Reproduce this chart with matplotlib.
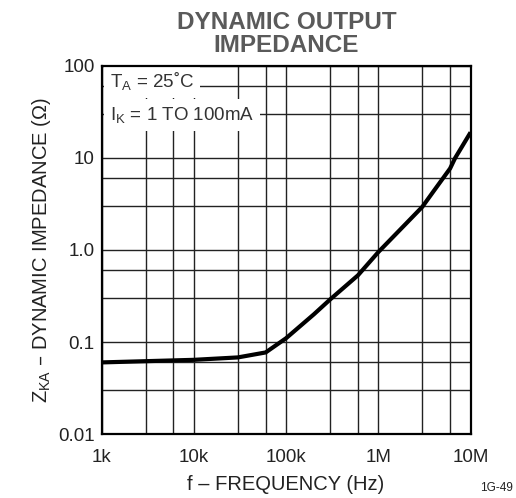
import matplotlib
matplotlib.use("Agg")
import matplotlib.pyplot as plt
from matplotlib.ticker import FixedLocator, NullFormatter

plt.rcParams['font.family'] = ['Liberation Sans', 'DejaVu Sans']
plt.rcParams['mathtext.default'] = 'regular'

# frequency (Hz) vs dynamic impedance (ohm)
freq = [1e3, 1e4, 3e4, 6e4, 1e5, 2e5, 3e5, 6e5, 1e6, 2e6, 3e6, 4e6, 6e6, 6.8e6, 8e6, 1e7]
zka = [0.060, 0.064, 0.068, 0.077, 0.11, 0.20, 0.29, 0.53, 0.95, 1.94, 2.95, 4.4, 7.7, 10.0, 13.1, 19.0]

x_ticks = [1e3, 1e4, 1e5, 1e6, 1e7]
x_labels = ['1k', '10k', '100k', '1M', '10M']
y_ticks = [0.01, 0.1, 1.0, 10, 100]
y_labels = ['0.01', '0.1', '1.0', '10', '100']

fig = plt.figure(figsize=(5.16, 4.98), dpi=100)
ax = fig.add_axes([0.197, 0.1285, 0.715, 0.739])

ax.plot(freq, zka, color='black', linewidth=3.0, solid_capstyle='butt', zorder=4)

ax.set_xscale('log')
ax.set_yscale('log')
ax.set_xlim(1e3, 1e7)
ax.set_ylim(0.01, 100)

ax.xaxis.set_major_locator(FixedLocator(x_ticks))
ax.set_xticklabels(x_labels)
ax.yaxis.set_major_locator(FixedLocator(y_ticks))
ax.set_yticklabels(y_labels)
minor_x = [m * d for d in x_ticks[:-1] for m in (3, 6)]
minor_y = [m * d for d in y_ticks[:-1] for m in (3, 6)]
ax.xaxis.set_minor_locator(FixedLocator(minor_x))
ax.yaxis.set_minor_locator(FixedLocator(minor_y))
ax.xaxis.set_minor_formatter(NullFormatter())
ax.yaxis.set_minor_formatter(NullFormatter())

ax.tick_params(which='both', length=0, labelsize=13.5, labelcolor='#222222')
ax.tick_params(axis='x', pad=11)
ax.tick_params(axis='y', pad=5)
ax.grid(True, which='both', color='#222222', linewidth=1.0)

for s in ax.spines.values():
    s.set_linewidth(1.6)
    s.set_color('black')

ax.set_xlabel('f \u2013 FREQUENCY (Hz)', fontsize=14.5, color='#222222', labelpad=6)
ax.set_ylabel('Z$_{KA}$ \u2013 DYNAMIC IMPEDANCE (\u03a9)', fontsize=14.5,
              color='#222222', labelpad=4)

box = dict(boxstyle='square,pad=0.3', fc='white', ec='none')
ax.text(0.0225, 0.942, 'T$_{A}$ = 25\u02daC', transform=ax.transAxes,
        fontsize=13.5, color='#333333', va='baseline', ha='left', bbox=box, zorder=2)
ax.text(0.0225, 0.853, 'I$_{K}$ = 1 TO 100mA', transform=ax.transAxes,
        fontsize=13.5, color='#333333', va='baseline', ha='left', bbox=box, zorder=2)

fig.text(0.555, 0.978, 'DYNAMIC OUTPUT\nIMPEDANCE', ha='center', va='top',
         fontsize=17.5, fontweight='bold', color='#5a5a5a', linespacing=1.02)
fig.text(0.93, 0.008, '1G-49', fontsize=8.5, color='#222222', ha='left', va='bottom')

fig.savefig('out.png', dpi=100)
